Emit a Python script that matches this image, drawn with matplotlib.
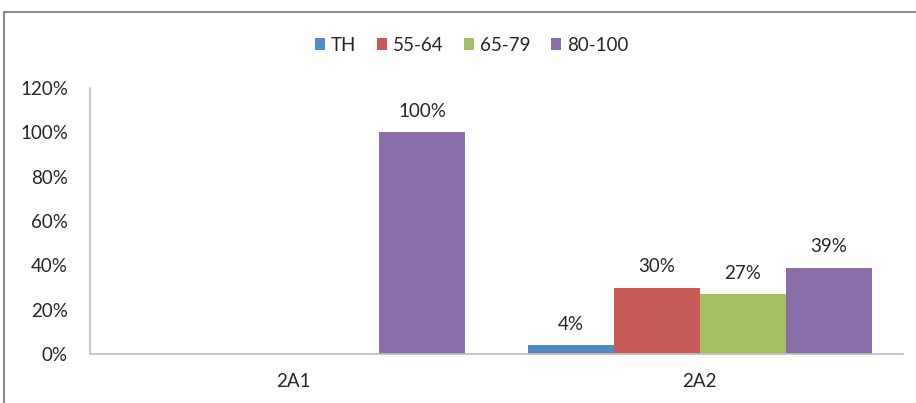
import matplotlib
matplotlib.use("Agg")
import matplotlib.pyplot as plt
from matplotlib.lines import Line2D
import numpy as np

categories = ["2A1", "2A2"]
series = ["TH", "55-64", "65-79", "80-100"]
# None = no bar / no label
values = {
    "TH": [None, 4],
    "55-64": [None, 30],
    "65-79": [None, 27],
    "80-100": [100, 39],
}
colors = ["#5588C4", "#C75A56", "#A2BF62", "#8A6EA9"]
yticks = [0, 20, 40, 60, 80, 100, 120]

plt.rcParams['font.family'] = ['Lato', 'DejaVu Sans']
fs = 13.5

fig = plt.figure(figsize=(9.16, 4.03), dpi=100, facecolor='w')
ax = fig.add_axes([0.0983, 0.1216, 0.8875, 0.66])

x = np.arange(len(categories))
w = 0.2116
n = len(series)
for i, (name, color) in enumerate(zip(series, colors)):
    vals = [np.nan if v is None else v for v in values[name]]
    pos = x + (i - (n - 1) / 2) * w
    ax.bar(pos, vals, width=w, color=color, label=name)
    for p, v in zip(pos, values[name]):
        if v is not None:
            ax.annotate(f"{v}%", (p, v), xytext=(0, 9), textcoords='offset points',
                        ha='center', va='bottom', fontsize=fs, color='#262626')

ax.set_xlim(-0.5, len(categories) - 0.5)
ax.set_ylim(0, 120)
ax.set_yticks(yticks)
ax.set_yticklabels([f"{t}%" for t in yticks], fontsize=fs, color='#262626')
ax.set_xticks(x)
ax.set_xticklabels(categories, fontsize=fs, color='#262626')
ax.tick_params(axis='both', length=0)
ax.tick_params(axis='y', pad=16)
ax.tick_params(axis='x', pad=14)

for spine in ('top', 'right'):
    ax.spines[spine].set_visible(False)
for spine in ('left', 'bottom'):
    ax.spines[spine].set_color('#BFBFBF')
    ax.spines[spine].set_linewidth(1.2)

leg = fig.legend(loc='center', bbox_to_anchor=(0.515, 0.888), ncol=4, frameon=False,
                 fontsize=fs, handlelength=0.55, handleheight=0.55, handletextpad=0.3,
                 columnspacing=1.1)
for t in leg.get_texts():
    t.set_color('#262626')

# outer chart border (cropped at right/bottom)
bx, by = 4 / 916, 1 - 12 / 403
fig.add_artist(Line2D([bx, bx], [0, by], transform=fig.transFigure, color='#8C8C8C', lw=1.5))
fig.add_artist(Line2D([bx, 1], [by, by], transform=fig.transFigure, color='#8C8C8C', lw=1.5))

plt.savefig("out.png", dpi=100)
